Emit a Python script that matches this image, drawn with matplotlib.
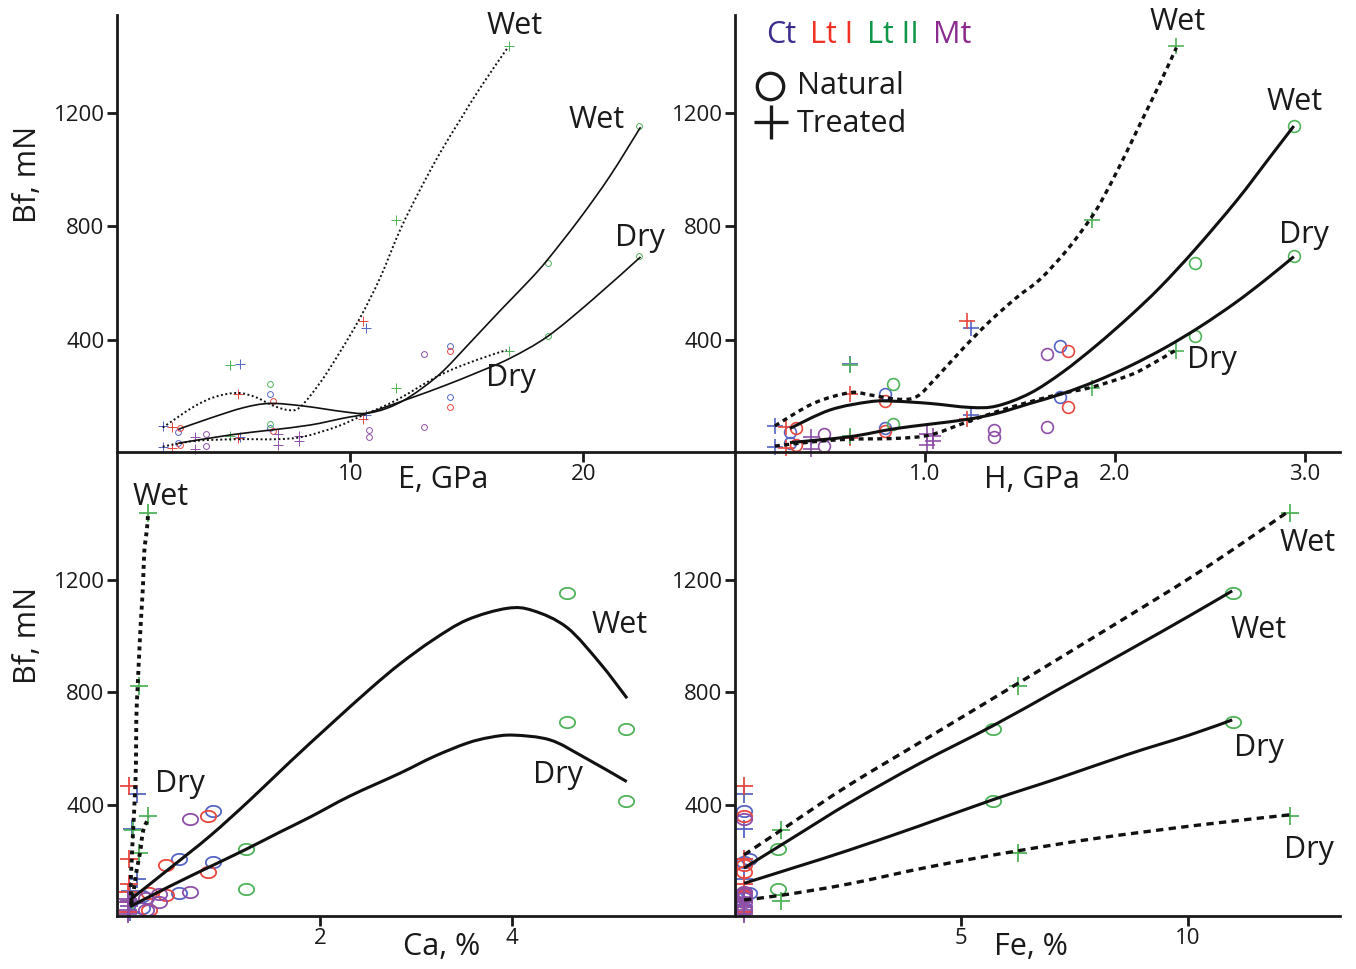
import numpy as np
import matplotlib
matplotlib.use("Agg")
import matplotlib.pyplot as plt
from matplotlib.path import Path
from matplotlib.patches import PathPatch
from matplotlib.lines import Line2D

plt.rcParams['font.family'] = ['Open Sans', 'DejaVu Sans']

# ---------------- sample data (one entry per sample) ----------------
sample_type = ['Ct', 'Ct', 'Ct', 'Ct', 'Ct', 'Ct',
               'Lt I', 'Lt I', 'Lt I', 'Lt I', 'Lt I', 'Lt I',
               'Lt II', 'Lt II', 'Lt II', 'Lt II', 'Lt II', 'Lt II',
               'Mt', 'Mt', 'Mt', 'Mt', 'Mt', 'Mt']
sample_treat = ['T', 'N', 'T', 'N', 'T', 'N',
                'T', 'N', 'T', 'N', 'T', 'N',
                'T', 'N', 'T', 'T', 'N', 'N',
                'T', 'N', 'T', 'T', 'N', 'N']
E_gpa = [1.96, 2.63, 5.28, 6.58, 10.67, 14.26,
         2.37, 2.70, 5.18, 6.70, 10.53, 14.30,
         4.85, 6.58, 11.97, 16.80, 18.50, 22.40,
         3.35, 3.80, 6.90, 7.80, 10.80, 13.15]
H_gpa = [0.21, 0.29, 0.605, 0.79, 1.24, 1.71,
         0.27, 0.32, 0.605, 0.79, 1.22, 1.75,
         0.605, 0.83, 1.88, 2.32, 2.42, 2.94,
         0.40, 0.47, 1.01, 1.04, 1.365, 1.64]
Ca_pct = [0.02, 0.15, 0.04, 0.53, 0.09, 0.88,
          0.00, 0.22, 0.01, 0.40, 0.01, 0.83,
          0.05, 1.23, 0.11, 0.21, 5.19, 4.57,
          0.00, 0.19, 0.00, 0.01, 0.32, 0.65]
Fe_pct = [0.20, 0.20, 0.20, 0.31, 0.20, 0.20,
          0.20, 0.20, 0.20, 0.20, 0.20, 0.20,
          1.01, 0.96, 6.24, 12.26, 5.69, 11.00,
          0.20, 0.20, 0.20, 0.20, 0.20, 0.20]
bf_dry = [21, 36, 57, 88, 136, 198,
          19, 28, 55, 80, 121, 162,
          60, 103, 230, 361, 415, 694,
          14, 26, 28, 42, 57, 92]
bf_wet = [96, 76, 316, 210, 440, 378,
          92, 88, 209, 186, 467, 360,
          311, 245, 822, 1436, 670, 1152,
          57, 70, 67, 60, 84, 350]

type_colors = {'Ct': '#5565c4', 'Lt I': '#e8473f', 'Lt II': '#4fb35a', 'Mt': '#8e4fa8'}
legend_names = ['Ct', 'Lt I', 'Lt II', 'Mt']
legend_colors = ['#3a2d8c', '#ee3224', '#0f9648', '#8b2b8f']

# ---------------- fitted curves ----------------
# E panel
e_wet_t_x = [1.96, 3.26, 4.20, 5.15, 5.92, 6.65, 7.33, 7.85, 8.70, 9.56, 10.42, 11.28, 12.14, 12.99, 13.85, 14.71, 15.57, 16.77]
e_wet_t_y = [91, 163, 199, 213, 199, 170, 153, 163, 248, 357, 477, 618, 787, 928, 1058, 1174, 1287, 1431]
e_wet_n_x = [2.63, 3.99, 5.42, 6.56, 7.99, 9.70, 10.63, 11.57, 12.56, 13.85, 15.14, 16.42, 17.71, 18.48, 19.85, 21.14, 22.45]
e_wet_n_y = [85, 124, 161, 176, 167, 147, 141, 159, 200, 280, 390, 502, 612, 684, 828, 977, 1149]
e_dry_n_x = [2.63, 4.85, 6.56, 8.28, 9.70, 10.71, 12.56, 13.99, 15.42, 16.85, 18.48, 20.37, 22.45]
e_dry_n_y = [36, 65, 82, 100, 124, 141, 194, 237, 284, 335, 413, 540, 692]
e_dry_t_x = [1.96, 3.34, 5.13, 6.85, 7.99, 9.42, 10.56, 11.99, 13.85, 15.42, 16.71]
e_dry_t_y = [24, 44, 50, 50, 59, 94, 135, 188, 276, 329, 364]
# H panel
h_wet_t_x = [0.21, 0.412, 0.605, 0.711, 0.851, 0.956, 1.062, 1.202, 1.342, 1.484, 1.605, 1.747, 1.868, 1.931, 2.032, 2.134, 2.236, 2.323]
h_wet_t_y = [97, 176, 214, 206, 191, 200, 269, 371, 466, 550, 613, 716, 824, 892, 1022, 1163, 1303, 1429]
h_wet_n_x = [0.289, 0.50, 0.71, 0.833, 1.026, 1.237, 1.377, 1.553, 1.726, 1.905, 2.079, 2.237, 2.421, 2.642, 2.816, 2.941]
h_wet_n_y = [88, 153, 182, 184, 176, 162, 167, 212, 287, 382, 484, 585, 718, 892, 1044, 1153]
h_dry_n_x = [0.289, 0.605, 0.851, 1.202, 1.377, 1.553, 1.726, 1.905, 2.079, 2.263, 2.447, 2.632, 2.789, 2.941]
h_dry_n_y = [38, 59, 88, 118, 141, 176, 211, 256, 308, 372, 446, 530, 610, 693]
h_dry_t_x = [0.21, 0.412, 0.605, 0.851, 1.026, 1.202, 1.377, 1.553, 1.728, 1.877, 2.079, 2.184, 2.321]
h_dry_t_y = [26, 41, 50, 53, 65, 106, 147, 182, 212, 233, 276, 311, 364]
# Ca panel
ca_wet_t_x = [0.038, 0.028, 0.038, 0.055, 0.072, 0.083, 0.086, 0.10, 0.117, 0.135, 0.156, 0.169, 0.197, 0.208]
ca_wet_t_y = [51, 110, 205, 323, 442, 560, 706, 819, 943, 1061, 1180, 1298, 1381, 1430]
ca_dry_t_x = [0.028, 0.055, 0.09, 0.125, 0.159, 0.221]
ca_dry_t_y = [45, 87, 169, 231, 311, 356]
ca_wet_n_x = [0.02, 0.437, 0.853, 1.27, 1.686, 2.103, 2.52, 2.832, 3.176, 3.53, 3.946, 4.217, 4.571, 4.915, 5.196]
ca_wet_n_y = [63, 176, 290, 418, 553, 684, 812, 901, 986, 1057, 1098, 1090, 1030, 903, 779]
ca_dry_n_x = [0.02, 0.437, 0.853, 1.236, 1.582, 1.895, 2.311, 2.832, 3.179, 3.526, 3.769, 4.012, 4.394, 4.741, 5.193]
ca_dry_n_y = [39, 112, 181, 244, 304, 357, 432, 513, 571, 619, 640, 648, 631, 571, 483]
# Fe panel
fe_wet_t_x = [0.2, 1.19, 2.52, 4.28, 6.23, 8.04, 10.25, 12.24]
fe_wet_t_y = [223, 329, 471, 641, 830, 1007, 1227, 1444]
fe_wet_n_x = [0.2, 1.41, 2.52, 4.06, 5.68, 7.16, 8.70, 10.03, 10.98]
fe_wet_n_y = [176, 297, 407, 546, 680, 812, 950, 1071, 1160]
fe_dry_n_x = [0.2, 1.41, 2.52, 4.06, 5.68, 7.16, 8.70, 10.03, 10.98]
fe_dry_n_y = [122, 183, 240, 325, 418, 496, 581, 648, 702]
fe_dry_t_x = [0.2, 1.08, 2.52, 4.28, 6.23, 8.04, 10.25, 12.24]
fe_dry_t_y = [63, 81, 120, 180, 237, 283, 329, 365]

W, H = 1356, 969
fig = plt.figure(figsize=(W / 100, H / 100), dpi=100)


def rect(x0, y0, x1, y1):
    return [x0 / W, 1 - y1 / H, (x1 - x0) / W, (y1 - y0) / H]


ax_e = fig.add_axes(rect(117, 15, 735, 452))
ax_h = fig.add_axes(rect(735, 15, 1340, 452))
ax_ca = fig.add_axes(rect(117, 452, 735, 916))
ax_fe = fig.add_axes(rect(735, 452, 1340, 916))

t = np.linspace(0, 2 * np.pi, 48)
ellipse = Path(np.column_stack([1.35 * np.cos(t), np.sin(t)]), closed=True)


def style_axes(ax, xlim, ylim, xticks, xticklabels):
    ax.set_xlim(*xlim)
    ax.set_ylim(*ylim)
    for s in ['top', 'right']:
        ax.spines[s].set_visible(False)
    for s in ['left', 'bottom']:
        ax.spines[s].set_linewidth(2.0)
        ax.spines[s].set_color('#1a1a1a')
    ax.set_xticks(xticks)
    ax.set_xticklabels(xticklabels)
    ax.set_yticks([400, 800, 1200])
    ax.tick_params(direction='out', length=7, width=2.0, labelsize=16,
                   colors='#1a1a1a', pad=2)
    ax.patch.set_alpha(0)


def scatter(ax, xs, circ_marker, ms_c, ms_p, mew):
    for i in range(len(sample_type)):
        c = type_colors[sample_type[i]]
        for yv in (bf_dry[i], bf_wet[i]):
            if sample_treat[i] == 'N':
                ax.plot(xs[i], yv, marker=circ_marker, ms=ms_c, mfc='none', mec=c,
                        mew=mew, ls='none', zorder=2, clip_on=False)
            else:
                ax.plot(xs[i], yv, marker='+', ms=ms_p, mec=c, mew=mew,
                        ls='none', zorder=2, clip_on=False)


def curve(ax, xs, ys, lw, ls='-'):
    # smooth (Catmull-Rom style Bezier) rendering through the read points
    P = np.column_stack([xs, ys]).astype(float)
    n = len(P)
    verts = [P[0]]
    codes = [Path.MOVETO]
    for i in range(n - 1):
        p0 = P[i - 1] if i > 0 else P[i]
        p1, p2 = P[i], P[i + 1]
        p3 = P[i + 2] if i + 2 < n else P[i + 1]
        verts += [p1 + (p2 - p0) / 6.0, p2 - (p3 - p1) / 6.0, p2]
        codes += [Path.CURVE4] * 3
    ax.add_patch(PathPatch(Path(verts, codes), fill=False, ec='#111111', lw=lw,
                           ls=ls, zorder=3, capstyle='butt', joinstyle='round'))


style_axes(ax_e, (0, 26.5), (5, 1544), [10, 20], ['10', '20'])
style_axes(ax_h, (0, 3.184), (5, 1544), [1.0, 2.0, 3.0], ['1.0', '2.0', '3.0'])
style_axes(ax_ca, (-0.115, 6.32), (6, 1653), [2, 4], ['2', '4'])
style_axes(ax_fe, (0, 13.36), (6, 1653), [5, 10], ['5', '10'])

scatter(ax_e, E_gpa, 'o', 4.2, 6.5, 0.7)
scatter(ax_h, H_gpa, 'o', 8.5, 12, 1.2)
scatter(ax_ca, Ca_pct, ellipse, 11, 13, 1.3)
scatter(ax_fe, Fe_pct, ellipse, 11, 13, 1.3)

dot_e = (0, (1.0, 1.3))
curve(ax_e, e_wet_t_x, e_wet_t_y, 1.4, dot_e)
curve(ax_e, e_dry_t_x, e_dry_t_y, 1.4, dot_e)
curve(ax_e, e_wet_n_x, e_wet_n_y, 1.2)
curve(ax_e, e_dry_n_x, e_dry_n_y, 1.2)

dash_h = (0, (1.5, 1.3))
curve(ax_h, h_wet_t_x, h_wet_t_y, 2.4, dash_h)
curve(ax_h, h_dry_t_x, h_dry_t_y, 2.4, dash_h)
curve(ax_h, h_wet_n_x, h_wet_n_y, 2.2)
curve(ax_h, h_dry_n_x, h_dry_n_y, 2.2)

dot_ca = (0, (1.0, 1.1))
curve(ax_ca, ca_wet_t_x, ca_wet_t_y, 2.8, dot_ca)
curve(ax_ca, ca_dry_t_x, ca_dry_t_y, 2.8, dot_ca)
curve(ax_ca, ca_wet_n_x, ca_wet_n_y, 2.2)
curve(ax_ca, ca_dry_n_x, ca_dry_n_y, 2.2)

dash_fe = (0, (2.2, 1.6))
curve(ax_fe, fe_wet_t_x, fe_wet_t_y, 2.4, dash_fe)
curve(ax_fe, fe_dry_t_x, fe_dry_t_y, 2.4, dash_fe)
curve(ax_fe, fe_wet_n_x, fe_wet_n_y, 2.2)
curve(ax_fe, fe_dry_n_x, fe_dry_n_y, 2.2)


def ftext(x, y, s, **kw):
    kw.setdefault('fontsize', 22)
    kw.setdefault('color', '#1a1a1a')
    fig.text(x / W, 1 - y / H, s, ha='center', va='center', **kw)


# Wet / Dry labels
for (x, y, s) in [(515, 26, 'Wet'), (597, 120, 'Wet'), (640, 238, 'Dry'), (511, 378, 'Dry'),
                  (1178, 22, 'Wet'), (1295, 102, 'Wet'), (1304, 235, 'Dry'), (1212, 360, 'Dry'),
                  (161, 497, 'Wet'), (620, 625, 'Wet'), (180, 784, 'Dry'), (558, 775, 'Dry'),
                  (1308, 543, 'Wet'), (1259, 630, 'Wet'), (1259, 748, 'Dry'), (1309, 850, 'Dry')]:
    ftext(x, y, s)

# axis labels
ftext(443, 480, 'E, GPa')
ftext(1032, 480, 'H, GPa')
ftext(442, 947, 'Ca, %')
ftext(1031, 947, 'Fe, %')
ftext(28, 174, 'Bf, mN', rotation=90)
ftext(28, 635, 'Bf, mN', rotation=90)

# legend
x = 766
for name, col in zip(legend_names, legend_colors):
    tx = fig.text(x / W, 1 - 35 / H, name, ha='left', va='center', fontsize=22, color=col)
    fig.canvas.draw()
    bb = tx.get_window_extent()
    x = x + bb.width + 14
fig.add_artist(Line2D([770 / W], [1 - 86 / H], marker='o', ms=19, mfc='none', mec='#1a1a1a',
                      mew=2.4, transform=fig.transFigure))
fig.add_artist(Line2D([771 / W], [1 - 122 / H], marker='+', ms=24, mec='#1a1a1a',
                      mew=2.4, transform=fig.transFigure))
fig.text(797 / W, 1 - 86 / H, 'Natural', ha='left', va='center', fontsize=22, color='#1a1a1a')
fig.text(797 / W, 1 - 124 / H, 'Treated', ha='left', va='center', fontsize=22, color='#1a1a1a')

fig.savefig('out.png', dpi=100, facecolor='white')
